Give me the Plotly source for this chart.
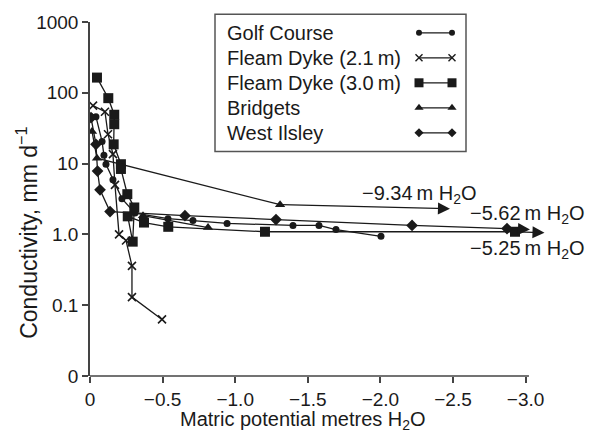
import plotly.graph_objects as go
import math

# ---- data: matric potential (m H2O) vs conductivity (mm/d) ----
series_names = ["Golf Course", "Fleam Dyke (2.1\u2009m)", "Fleam Dyke (3.0\u2009m)", "Bridgets", "West Ilsley"]

golf_x = [-0.007, -0.041, -0.083, -0.096, -0.11, -0.158, -0.22, -0.31, -0.537, -0.709, -0.944, -1.398, -1.577, -1.694, -2.004]
golf_y = [46, 46, 20.6, 13.1, 9.8, 5.9, 3.2, 2.0, 1.67, 1.57, 1.43, 1.34, 1.34, 1.17, 0.94]

fd21_x = [-0.021, -0.103, -0.124, -0.158, -0.172, -0.2, -0.248, -0.289, -0.289, -0.496]
fd21_y = [66, 54, 26, 13.6, 5.0, 1.0, 0.82, 0.36, 0.13, 0.063]

fd30_x = [-0.048, -0.126, -0.167, -0.167, -0.163, -0.213, -0.213, -0.257, -0.305, -0.294, -0.26, -0.372, -0.539, -1.205, -2.927]
fd30_y = [164, 84, 49, 36, 18.7, 9.8, 8.4, 3.7, 2.4, 0.79, 1.8, 1.47, 1.28, 1.09, 1.09]

brid_x = [-0.014, -0.048, -1.309, None, -0.365, -0.813]
brid_y = [28.5, 11.9, 2.63, None, 1.84, 1.25]

wi_x = [-0.007, -0.041, -0.052, -0.069, -0.138, -0.654, -1.281, -2.218, -2.872]
wi_y = [44.6, 18.7, 7.85, 4.26, 2.10, 1.84, 1.62, 1.34, 1.21]

# off-scale potentials reached after the last plotted point
offscale_labels = ["\u22129.34\u2009m H<sub>2</sub>O", "\u22125.62\u2009m H<sub>2</sub>O", "\u22125.25\u2009m H<sub>2</sub>O"]
offscale_heads_x = [-2.479, -3.03, -3.13]
offscale_heads_y = [2.31, 1.17, 1.055]

x_tickvals = [0, -0.5, -1.0, -1.5, -2.0, -2.5, -3.0]
x_ticktext = ["0", "\u22120.5", "\u22121.0", "\u22121.5", "\u22122.0", "\u22122.5", "\u22123.0"]
y_tickvals = [0.01, 0.1, 1, 10, 100, 1000]
y_ticktext = ["0", "0.1", "1.0", "10", "100", "1000"]

# ---- styling ----
FONT = "Liberation Sans, Arial, sans-serif"
INK = "#1a1a1a"
AXIS = "#444444"
W, H = 598, 435
ML, MR, MT, MB = 90, 43, 15, 59
PX_PER_UNIT = 145.2
plot_w = W - ML - MR
plot_h = H - MT - MB
x_end = -plot_w / PX_PER_UNIT

marker_styles = [
    dict(symbol="circle", size=7, color=INK),
    dict(symbol="x-thin", size=8, color=INK, line=dict(width=1.6, color=INK)),
    dict(symbol="square", size=10, color=INK),
    dict(symbol="triangle-up", size=9, color=INK),
    dict(symbol="diamond", size=9, color=INK),
]
legend_marker_styles = [
    dict(symbol="circle", size=6, color=INK),
    dict(symbol="x-thin", size=7, color=INK, line=dict(width=1.4, color=INK)),
    dict(symbol="square", size=9, color=INK),
    dict(symbol="triangle-up", size=8, color=INK),
    dict(symbol="diamond", size=7, color=INK),
]

all_x = [golf_x, fd21_x, fd30_x, brid_x, wi_x]
all_y = [golf_y, fd21_y, fd30_y, brid_y, wi_y]

fig = go.Figure()
for name, xs, ys, ms in zip(series_names, all_x, all_y, marker_styles):
    fig.add_trace(go.Scatter(
        x=xs, y=ys, mode="lines+markers", name=name, showlegend=False,
        line=dict(color=INK, width=1.3), marker=ms, connectgaps=False,
    ))

# legend samples on an auxiliary, hidden axis pair
for i, ms in enumerate(legend_marker_styles):
    fig.add_trace(go.Scatter(
        x=[0, 1], y=[i, i], xaxis="x2", yaxis="y2", mode="lines+markers",
        showlegend=False, cliponaxis=False,
        line=dict(color=INK, width=1.3), marker=ms,
    ))

annotations = []
# arrows from the last plotted point to the off-scale potential
arrow_tails = [(brid_x[2], brid_y[2]), (wi_x[-1], wi_y[-1]), (fd30_x[-1], fd30_y[-1])]
for (tx, ty), hx, hy in zip(arrow_tails, offscale_heads_x, offscale_heads_y):
    annotations.append(dict(
        x=hx, y=math.log10(hy), ax=tx, ay=math.log10(ty), xref="x", yref="y",
        axref="x", ayref="y", text="", showarrow=True, arrowhead=2,
        arrowsize=2.0, arrowwidth=1.2, arrowcolor=INK, standoff=0, startstandoff=0,
    ))

label_pos = [(-1.86, 0.559), (-2.603, 0.28), (-2.603, -0.21)]
for txt, (lx, ly) in zip(offscale_labels, label_pos):
    annotations.append(dict(
        x=lx, y=ly, xref="x", yref="y", text=txt, showarrow=False,
        xanchor="left", yanchor="middle", font=dict(family=FONT, size=20, color=INK),
    ))

# legend labels
for i, name in enumerate(series_names):
    annotations.append(dict(
        x=(225 - ML) / plot_w, y=i, xref="paper", yref="y2", text=name,
        showarrow=False, xanchor="left", yanchor="middle",
        font=dict(family=FONT, size=20, color=INK),
    ))

# axis titles
annotations.append(dict(
    x=(303 - ML) / plot_w, y=(MT + plot_h - 421) / plot_h, xref="paper", yref="paper",
    text="Matric potential metres H<sub>2</sub>O", showarrow=False,
    xanchor="center", yanchor="middle", font=dict(family=FONT, size=20, color=INK),
))
annotations.append(dict(
    x=(27 - ML) / plot_w, y=(MT + plot_h - 230) / plot_h, xref="paper", yref="paper",
    text="Conductivity, mm d<sup>\u22121</sup>", showarrow=False, textangle=-90,
    xanchor="center", yanchor="middle", font=dict(family=FONT, size=23, color=INK),
))

def px_to_paper_x(px):
    return (px - ML) / plot_w

def px_to_paper_y(py):
    return (MT + plot_h - py) / plot_h

shapes = [
    # x axis line ends just past the last tick
    dict(type="line", xref="x", yref="paper", x0=0, x1=-3.023, y0=0, y1=0,
         line=dict(color=AXIS, width=1.5)),
    # legend frame
    dict(type="rect", xref="paper", yref="paper",
         x0=px_to_paper_x(215), x1=px_to_paper_x(466),
         y0=px_to_paper_y(147), y1=px_to_paper_y(7),
         line=dict(color="#555555", width=1.5), fillcolor="rgba(0,0,0,0)"),
]

fig.update_layout(
    width=W, height=H,
    margin=dict(l=ML, r=MR, t=MT, b=MB, pad=0),
    paper_bgcolor="white", plot_bgcolor="white",
    font=dict(family=FONT, size=19, color=INK),
    xaxis=dict(
        range=[0, x_end], tickvals=x_tickvals, ticktext=x_ticktext,
        showgrid=False, zeroline=False, showline=False,
        ticks="outside", ticklen=6, tickwidth=1.5, tickcolor=AXIS,
        tickfont=dict(family=FONT, size=19, color=INK),
    ),
    yaxis=dict(
        type="log", range=[-2, 3], tickvals=y_tickvals, ticktext=y_ticktext,
        showgrid=False, zeroline=False, showline=True, linecolor=AXIS, linewidth=1.5,
        ticks="outside", ticklen=6, tickwidth=1.5, tickcolor=AXIS,
        tickfont=dict(family=FONT, size=19, color=INK),
    ),
    xaxis2=dict(domain=[px_to_paper_x(419), px_to_paper_x(452)], range=[0, 1],
                visible=False, anchor="y2", fixedrange=True),
    yaxis2=dict(domain=[px_to_paper_y(138.2), px_to_paper_y(15.8)], range=[4.4, -0.4],
                visible=False, anchor="x2", fixedrange=True),
    annotations=annotations,
    shapes=shapes,
    showlegend=False,
)

fig.write_html("out.html")
